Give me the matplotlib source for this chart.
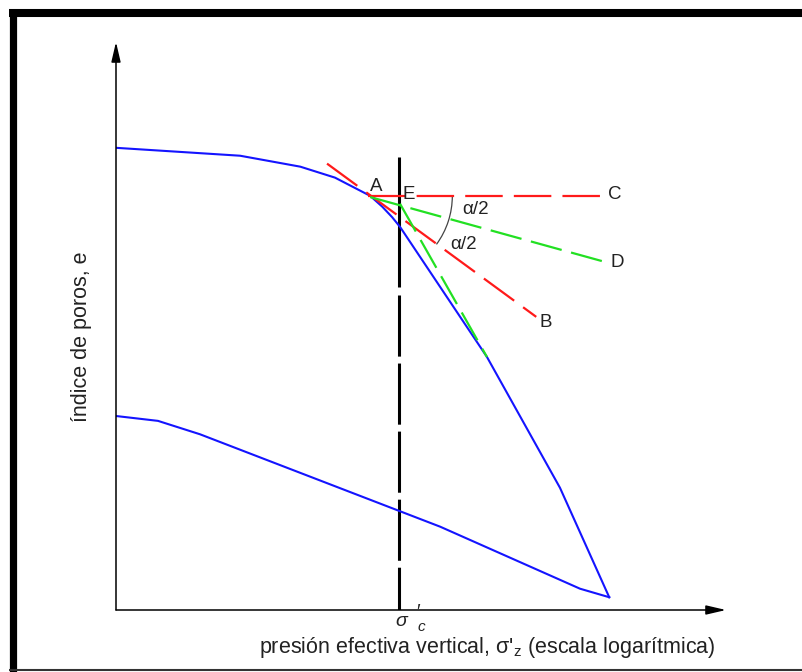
import numpy as np
import matplotlib
matplotlib.use("Agg")
import matplotlib.pyplot as plt
from matplotlib.lines import Line2D
from matplotlib.patches import Arc

plt.rcParams["font.family"] = ["Liberation Sans", "DejaVu Sans"]
plt.rcParams["mathtext.fontset"] = "custom"
plt.rcParams["mathtext.rm"] = "Liberation Sans"
plt.rcParams["mathtext.it"] = "Liberation Sans:italic"
plt.rcParams["lines.scale_dashes"] = False

# Casagrande construction, schematic units (x ~ log sigma', y ~ e)
load_x = [0.00, 2.04, 3.03, 3.60, 4.18, 4.38, 4.54, 4.67, 6.10, 7.30, 8.11]
load_e = [7.60, 7.47, 7.29, 7.11, 6.81, 6.63, 6.46, 6.30, 4.16, 2.01, 0.21]
unload_x = [8.11, 7.63, 5.33, 1.38, 0.69, 0.00]
unload_e = [0.21, 0.35, 1.37, 2.89, 3.11, 3.19]

point_a = (4.18, 6.81)
point_e = (4.67, 6.68)
tangent_x = [3.47, 6.91]   # A-B
tangent_e = [7.34, 4.82]
horiz_x = [4.14, 8.04]     # A-C
horiz_e = [6.81, 6.81]
bisector_x = [4.18, 8.09]  # A-D
bisector_e = [6.79, 5.71]
steep_x = [4.67, 6.10]     # E tangent to the virgin branch
steep_e = [6.68, 4.16]

sigma_c = 4.65
sigma_c_solid = [7.45, 5.31]
sigma_c_dashed = [5.18, 0.0]

X_MAX, Y_MAX = 10.03, 9.34
RED, GREEN, BLUE = "#ff1a1a", "#22e022", "#1414ff"
TXT = "#222222"

fig = plt.figure(figsize=(8.02, 6.72), dpi=100)
ax = fig.add_axes([116 / 802, 62 / 672, 610 / 802, 568 / 672])
ax.set_xlim(0, X_MAX)
ax.set_ylim(0, Y_MAX)
ax.axis("off")

# axes with arrow heads
arrow = dict(arrowstyle="-|>,head_length=1.2,head_width=0.28", lw=1.1,
             color="black", shrinkA=0, shrinkB=0, mutation_scale=10)
ax.annotate("", xy=(1, 0), xytext=(0, 0), xycoords="axes fraction", arrowprops=arrow)
ax.annotate("", xy=(0, 1), xytext=(0, 0), xycoords="axes fraction", arrowprops=arrow)

# preconsolidation line
ax.plot([sigma_c, sigma_c], sigma_c_solid, color="black", lw=2.2, solid_capstyle="butt")
ax.plot([sigma_c, sigma_c], sigma_c_dashed, color="black", lw=2.2,
        dashes=(44, 5), dash_capstyle="butt")

# compression curves
ax.plot(load_x, load_e, color=BLUE, lw=1.5)
ax.plot(unload_x, unload_e, color=BLUE, lw=1.5)

# construction lines
ax.plot(horiz_x, horiz_e, color=RED, lw=1.6, dashes=(27, 8))
ax.plot(tangent_x, tangent_e, color=RED, lw=1.6, dashes=(27, 8))
ax.plot(bisector_x, bisector_e, color=GREEN, lw=1.6, dashes=(23, 7))
ax.plot(steep_x, steep_e, color=GREEN, lw=1.6, dashes=(23, 7))

# angle arc at A
ang = np.degrees(np.arctan2(tangent_e[1] - tangent_e[0], tangent_x[1] - tangent_x[0]))
ax.add_patch(Arc(point_a, 2.7, 2.7, theta1=ang, theta2=0, color="#444444", lw=0.9))

def label(txt, xy, dx, dy, ha="center", va="center", size=13.5):
    ax.annotate(txt, xy=xy, xytext=(dx, dy), textcoords="offset points",
                ha=ha, va=va, fontsize=size, color=TXT)

label("A", point_a, 4.5, 6.5)
label("E", point_e, 6.5, 6.5)
label("C", (horiz_x[1], horiz_e[1]), 2, 1, ha="left")
label("D", (bisector_x[1], bisector_e[1]), 1.5, 0, ha="left")
label("B", (tangent_x[1], tangent_e[1]), 2.5, -4, ha="left")
label("α/2", point_a, 76, -9.5)
label("α/2", point_a, 67.5, -35)

# sigma'_c tick label
ax.annotate("σ", xy=(sigma_c, 0), xytext=(2, -8), textcoords="offset points",
            ha="center", va="center", fontsize=14, style="italic", color=TXT)
ax.annotate("′", xy=(sigma_c, 0), xytext=(14, -2), textcoords="offset points",
            ha="center", va="center", fontsize=14, color=TXT)
ax.annotate("c", xy=(sigma_c, 0), xytext=(16, -12.5), textcoords="offset points",
            ha="center", va="center", fontsize=11, style="italic", color=TXT)

fig.text(487 / 802, 1 - 647 / 672,
         "presión efectiva vertical, σ'$_\\mathrm{z}$ (escala logarítmica)",
         ha="center", va="center", fontsize=15.5, color=TXT)
fig.text(82 / 802, 1 - 337 / 672, "índice de poros, e", rotation=90,
         ha="center", va="center", fontsize=15.5, color=TXT)

# page frame
fig.add_artist(Line2D([12.5 / 802] * 2, [0, 1 - 9 / 672], color="black", lw=5.2,
                      transform=fig.transFigure, solid_capstyle="butt"))
fig.add_artist(Line2D([9 / 802, 1], [1 - 13 / 672] * 2, color="black", lw=5.8,
                      transform=fig.transFigure, solid_capstyle="butt"))
fig.add_artist(Line2D([9 / 802, 1], [2 / 672] * 2, color="#333333", lw=1.5,
                      transform=fig.transFigure, solid_capstyle="butt"))

fig.savefig("out.png", dpi=100)
